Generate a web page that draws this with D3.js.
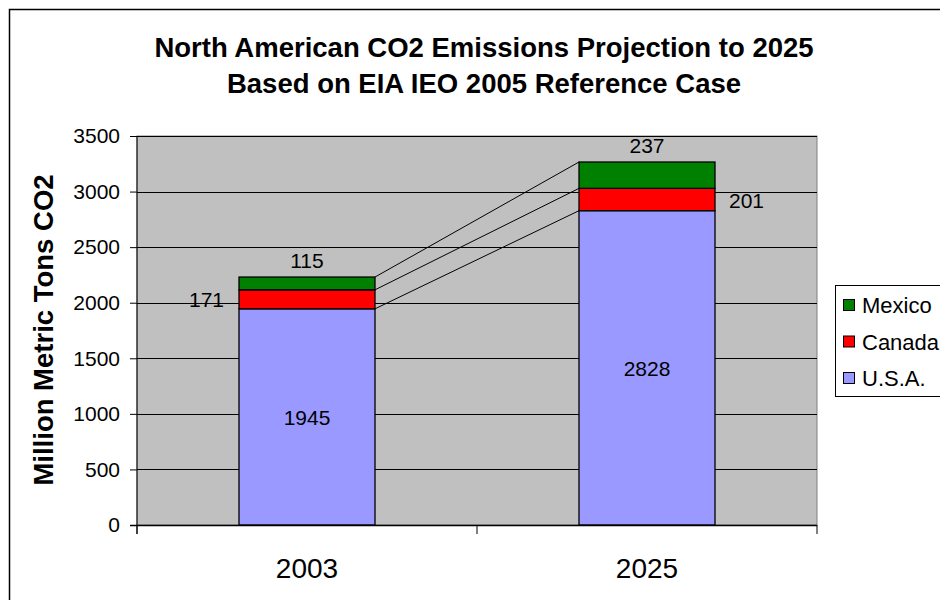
<!DOCTYPE html>
<html><head><meta charset="utf-8">
<script src="https://cdn.jsdelivr.net/npm/d3@7"></script>
<style>body{margin:0;background:#fff}svg{display:block;font-family:Arial,"Liberation Sans",sans-serif}</style>
</head><body><svg id="c" width="940" height="600"></svg>
<script>
const categories = ["2003", "2025"];
const seriesNames = ["U.S.A.", "Canada", "Mexico"];
const usa = [1945, 2828];
const canada = [171, 201];
const mexico = [115, 237];
const yTicks = [0, 500, 1000, 1500, 2000, 2500, 3000, 3500];
const colors = {"U.S.A.": "#9999FF", "Canada": "#FF0000", "Mexico": "#008000"};
const titleLines = ["North American CO2 Emissions Projection to 2025", "Based on EIA IEO 2005 Reference Case"];
const yLabel = "Million Metric Tons CO2";

const svg = d3.select("#c");
const m = {l: 137, r: 817, t: 136, b: 525};

// chart border
svg.append("rect").attr("x", 9.5).attr("y", 9.5).attr("width", 1000).attr("height", 1000)
  .attr("fill", "#fff").attr("stroke", "#000").attr("stroke-width", 1.5);

const x = d3.scaleBand().domain(categories).range([m.l, m.r]).paddingInner(0.6).paddingOuter(0.3);
const xb = d3.scaleBand().domain(categories).range([m.l, m.r]);
const y = d3.scaleLinear().domain([0, 3500]).range([m.b, m.t]);

svg.append("rect").attr("x", m.l).attr("y", m.t).attr("width", m.r - m.l).attr("height", m.b - m.t)
  .attr("fill", "#C0C0C0").attr("stroke", "#808080").attr("stroke-width", 1);

// gridlines
svg.append("g").selectAll("line").data(yTicks.filter(d => d > 0)).join("line")
  .attr("x1", m.l).attr("x2", m.r).attr("y1", d => Math.round(y(d)) + 0.5).attr("y2", d => Math.round(y(d)) + 0.5)
  .attr("stroke", "#000").attr("stroke-width", 1);

// stack
const table = categories.map((c, i) => ({cat: c, "U.S.A.": usa[i], "Canada": canada[i], "Mexico": mexico[i]}));
const stack = d3.stack().keys(seriesNames)(table);

// series connecting lines
stack.forEach(s => {
  svg.append("line")
    .attr("x1", x(categories[0]) + x.bandwidth()).attr("y1", y(s[0][1]))
    .attr("x2", x(categories[1])).attr("y2", y(s[1][1]))
    .attr("stroke", "#000").attr("stroke-width", 1);
});

stack.forEach(s => {
  svg.append("g").selectAll("rect").data(s).join("rect")
    .attr("x", d => x(d.data.cat)).attr("width", x.bandwidth())
    .attr("y", d => y(d[1])).attr("height", d => y(d[0]) - y(d[1]))
    .attr("fill", colors[s.key]).attr("stroke", "#000").attr("stroke-width", 1.3);
});

// axes
const yAxis = d3.axisLeft(y).tickValues(yTicks).tickFormat(d3.format("d")).tickSize(7).tickPadding(10);
const gy = svg.append("g").attr("transform", `translate(${m.l},0)`).call(yAxis);
gy.select(".domain").remove();
gy.append("line").attr("x1", 0).attr("x2", 0).attr("y1", m.t).attr("y2", m.b + 9).attr("stroke", "#000");
gy.selectAll("text").attr("font-size", 21).attr("fill", "#000").attr("font-family", "Arial, 'Liberation Sans', sans-serif");

const gx = svg.append("g").attr("transform", `translate(0,${m.b})`);
gx.append("line").attr("x1", m.l - 7).attr("x2", m.r).attr("y1", 0.5).attr("y2", 0.5).attr("stroke", "#000").attr("stroke-width", 1.3);
const bounds = [xb(categories[0]), xb(categories[1]), xb(categories[1]) + xb.bandwidth()];
gx.selectAll("line.t").data(bounds).join("line").attr("class", "t")
  .attr("x1", d => d).attr("x2", d => d).attr("y1", 0).attr("y2", 9).attr("stroke", "#000");
gx.selectAll("text").data(categories).join("text")
  .attr("x", d => xb(d) + xb.bandwidth() / 2).attr("y", 53)
  .attr("text-anchor", "middle").attr("font-size", 28).text(d => d);

// data labels
const lab = svg.append("g").attr("font-size", 21).attr("fill", "#000");
categories.forEach((c, i) => {
  const cx = x(c) + x.bandwidth() / 2;
  lab.append("text").attr("x", cx).attr("y", y(usa[i] / 2) + 8).attr("text-anchor", "middle").text(usa[i]);
  const topM = usa[i] + canada[i] + mexico[i];
  lab.append("text").attr("x", cx).attr("y", y(topM) - 9).attr("text-anchor", "middle").text(mexico[i]);
  const cy = y(usa[i] + canada[i] / 2) + 8;
  if (i === 0) lab.append("text").attr("x", x(c) - 15).attr("y", cy).attr("text-anchor", "end").text(canada[i]);
  else lab.append("text").attr("x", x(c) + x.bandwidth() + 14).attr("y", cy).attr("text-anchor", "start").text(canada[i]);
});

// title
svg.append("g").selectAll("text").data(titleLines).join("text")
  .attr("x", 484).attr("y", (d, i) => 57 + i * 36).attr("text-anchor", "middle")
  .attr("font-size", 27.5).attr("font-weight", "bold").text(d => d);

svg.append("text").attr("transform", "translate(53,330) rotate(-90)").attr("text-anchor", "middle")
  .attr("font-size", 27.5).attr("font-weight", "bold").text(yLabel);

// legend
const lg = svg.append("g");
lg.append("rect").attr("x", 835.5).attr("y", 285.5).attr("width", 120).attr("height", 111)
  .attr("fill", "#fff").attr("stroke", "#000").attr("stroke-width", 1);
const legItems = seriesNames.slice().reverse();
legItems.forEach((k, i) => {
  const yy = 305 + i * 36.5;
  lg.append("rect").attr("x", 843.5).attr("y", yy - 5.5).attr("width", 11).attr("height", 11)
    .attr("fill", colors[k]).attr("stroke", "#000").attr("stroke-width", 1);
  lg.append("text").attr("x", 862).attr("y", yy + 8).attr("font-size", 22).text(k);
});
</script></body></html>
